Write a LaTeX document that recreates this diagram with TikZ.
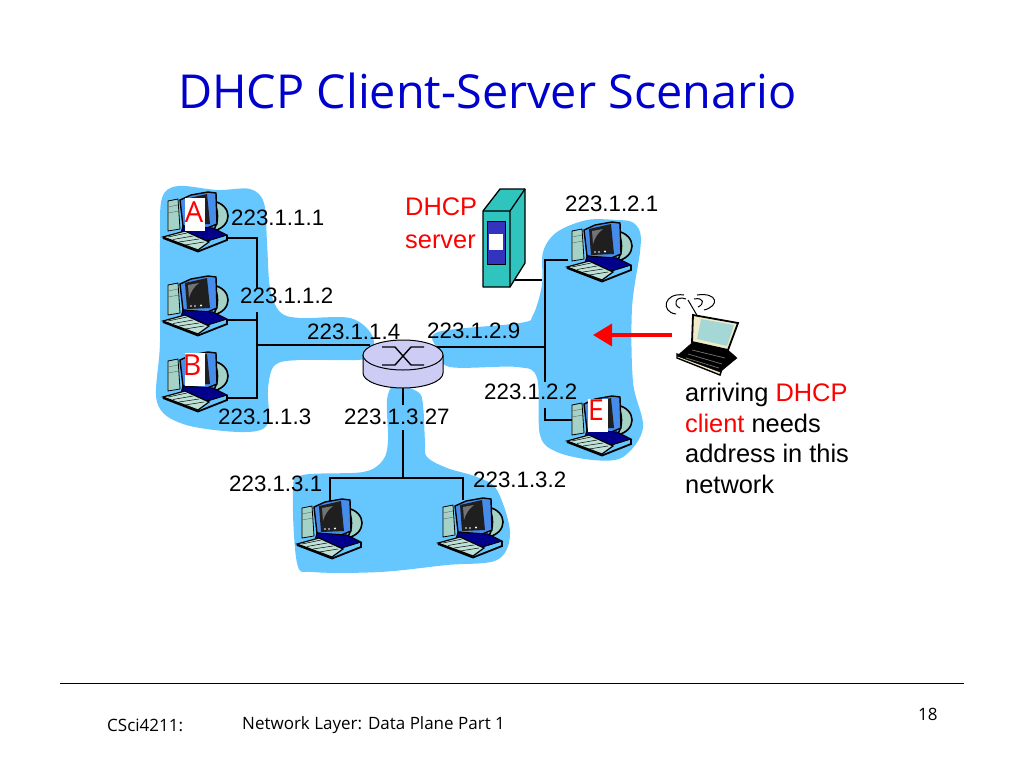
\documentclass[tikz,border=0pt]{standalone}
\usepackage{fontspec}
\setmainfont{Liberation Sans}
\newfontfamily\slidefont{Open Sans}
\usetikzlibrary{arrows.meta}
\definecolor{netblue}{RGB}{102,199,255}
\definecolor{slideblue}{RGB}{0,0,204}
\definecolor{serverteal}{RGB}{48,196,190}
\definecolor{panelblue}{RGB}{51,51,190}
\definecolor{routerlav}{RGB}{204,204,245}
\definecolor{bandblue}{RGB}{70,140,235}
\definecolor{towerteal}{RGB}{165,210,198}
\definecolor{keygrey}{RGB}{190,225,215}
\definecolor{lapscreen}{RGB}{165,215,215}
\definecolor{lapcream}{RGB}{240,235,200}
\tikzset{
  netblob/.style = {fill=netblue, draw=none},
  wire/.style = {draw=black, line width=1.6pt},
  addr/.style = {anchor=west, inner sep=0pt, font=\fontsize{22.3}{26}\selectfont},
  note/.style = {anchor=west, inner sep=0pt, font=\fontsize{25.4}{30.5}\selectfont},
  foot/.style = {anchor=west, inner sep=0pt, font=\slidefont\fontsize{17}{20}\selectfont},
  hostpaper/.style = {fill=white, inner sep=0pt, minimum width=20pt, minimum height=33pt},
  hostletter/.style = {text=red, inner sep=0pt, font=\slidefont\fontsize{29}{30}\selectfont},
  computer/.pic = {
    % tower
    \draw[fill=towerteal, line width=.8pt] (5,8) -- (15,6) -- (17,36) -- (5,38) -- cycle;
    \draw[black!60] (5,14) -- (15,12) (5,20) -- (16,18);
    % swoosh behind the monitor
    \draw[fill=towerteal, line width=1.6pt] (50,8) .. controls (70,12) and (70,34) .. (50,38)
      .. controls (56,30) and (56,16) .. (50,8) -- cycle;
    % monitor
    \draw[fill=bandblue, line width=1.4pt] (17,7) -- (28,2) -- (45,-1) -- (53,0) -- (54,31) -- (42,36) -- (20,33) -- cycle;
    \fill[black!88] (22,6) -- (44,1) -- (47,31) -- (24,32) -- cycle;
    \fill[black!55] (25,8) -- (36,6) .. controls (31,10) and (28,14) .. (26,21) -- cycle;
    \fill[white] (28,29) circle (.8) (32,29) circle (.8) (38,28.5) circle (1.2);
    % base
    \draw[fill=blue!55!black, line width=1pt] (20,33) -- (50,35) -- (64,42) -- (38,50) -- (18,40) -- cycle;
    % keyboard
    \draw[fill=keygrey, line width=1.2pt] (0,44) -- (22,38) -- (46,49) -- (35,57) -- cycle;
    \draw[line width=.5pt] (5,44) -- (24,40) (10,46.5) -- (30,43) (16,49) -- (36,46) (22,52) -- (41,49);
    \draw[line width=1.8pt] (0,45) -- (35,58.5) -- (64,47) -- (64,42);
  }
}
\begin{document}
\begin{tikzpicture}[x=1pt,y=-1pt]
    \useasboundingbox (0,0) rectangle (1024,768);
    % title and footer
    \node (title) [anchor=west, inner sep=0pt, text=slideblue, font=\slidefont\fontsize{46.8}{52}\selectfont] at (178,91) {DHCP Client-Server Scenario};
    \coordinate (ruleL) at (60,683);
    \coordinate (ruleR) at (964,683);
    \draw[line width=.7pt] (ruleL) -- (ruleR);
    \node (course) [foot] at (107,725) {CSci4211:};
    \node (chapter) [foot] at (242,725) {Network Layer: Data Plane Part 1};
    \node (pageno) [foot] at (918,714) {18};
    % subnets
    \fill[netblob] plot[smooth cycle, tension=.55] coordinates {(178,186) (217,190) (250,189) (264,203) (267,242) (270,288)
      (280,312) (300,318) (350,318) (372,335) (372,355) (357,360) (300,360) (275,365) (268,388) (267,425)
      (240,432) (183,424) (157,402) (160,342) (160,242) (162,198)};
    \fill[netblob] plot[smooth cycle, tension=.55] coordinates {(632,222) (617,220) (587,220) (557,232) (543,252) (542,285)
      (533,315) (520,323) (438,332) (438,350) (450,367) (517,367) (537,378) (540,435) (557,452)
      (593,460) (623,457) (643,428) (633,382) (632,308) (640,252) (640,232)};
    \fill[netblob] plot[smooth cycle, tension=.55] coordinates {(395,385) (418,392) (423,405) (425,442) (427,457) (447,468) (477,477)
      (497,490) (510,533) (497,560) (447,565) (380,572) (313,572) (297,563) (293,490) (303,475)
      (363,472) (383,460) (388,440) (387,400)};
    % junctions
    \coordinate (leftTop) at (257,238);
    \coordinate (leftUpperEnd) at (257,288);
    \coordinate (leftLowerTop) at (257,312);
    \coordinate (leftMid) at (257,320);
    \coordinate (leftRouter) at (257,345);
    \coordinate (leftBot) at (257,398);
    \coordinate (portA) at (227,238);
    \coordinate (portM) at (227,320);
    \coordinate (portB) at (227,398);
    \coordinate (rightTop) at (545,260);
    \coordinate (rightServer) at (542,280);
    \coordinate (rightRouter) at (545,347);
    \coordinate (rightUpperEnd) at (545,382);
    \coordinate (rightLowerTop) at (545,408);
    \coordinate (rightBot) at (545,420);
    \coordinate (portT) at (568,260);
    \coordinate (portE) at (575,420);
    \coordinate (portS) at (515,280);
    \coordinate (routerL) at (370,345);
    \coordinate (routerR) at (437,347);
    \coordinate (routerB) at (403,388);
    \coordinate (downEnd) at (403,405);
    \coordinate (downTop) at (403,430);
    \coordinate (downJoin) at (403,478);
    \coordinate (joinL) at (330,478);
    \coordinate (joinR) at (463,478);
    \coordinate (portL) at (330,502);
    \coordinate (portR) at (463,500);
    % wires
    \draw[wire] (portA) -- (leftTop) -- (leftUpperEnd);
    \draw[wire] (leftLowerTop) -- (leftBot) -- (portB);
    \draw[wire] (portM) -- (leftMid);
    \draw[wire] (leftRouter) -- (routerL);
    \draw[wire] (routerR) -- (rightRouter);
    \draw[wire] (portT) -- (rightTop) -- (rightUpperEnd);
    \draw[wire] (rightLowerTop) -- (rightBot) -- (portE);
    \draw[wire] (portS) -- (rightServer);
    \draw[wire] (routerB) -- (downEnd);
    \draw[wire] (downTop) -- (downJoin);
    \draw[wire] (portL) -- (joinL) -- (joinR) -- (portR);
    % router
    \draw[fill=routerlav, line width=1pt] (363,355) -- (363,373) arc (180:0:40 and 15) -- (443,355);
    \draw[fill=routerlav, line width=1pt] (403,355) ellipse (40 and 15);
    \draw[line width=1.4pt] (382,347) -- (395,347) -- (411,365) -- (424,365);
    \draw[line width=1.4pt] (382,365) -- (395,365) -- (411,347) -- (424,347);
    % hosts
    \pic (hostA) at (163,193) {computer};
    \pic (hostM) at (163,277) {computer};
    \pic (hostB) at (163,353) {computer};
    \pic (hostT) at (567,223) {computer};
    \pic (hostE) at (567,397) {computer};
    \pic (hostL) at (297,500) {computer};
    \pic (hostR) at (438,499) {computer};
    \node (paperA) [hostpaper] at (195,214) {};
    \node (paperB) [hostpaper] at (195,369) {};
    \node (paperE) [hostpaper] at (598,415) {};
    \node (letterA) [hostletter] at (194,212) {A};
    \node (letterB) [hostletter] at (192,365) {B};
    \node (letterE) [hostletter] at (596,410) {E};
    % server
    \draw[fill=serverteal, line width=1.3pt, line join=round] (483,211) -- (500,189) -- (525,189) -- (525,263) -- (510,287) -- (483,287) -- cycle;
    \draw[line width=1.3pt] (483,211) -- (510,211) -- (525,189) (510,211) -- (510,287);
    \draw[fill=panelblue, line width=1pt] (487,221) rectangle (505,264);
    \fill[white] (489,234) rectangle (503,250);
    % laptop
    \draw[line width=1pt] (688,300) -- (698,317);
    \draw[line width=1pt] (686,299) .. controls (676,295) and (672,305) .. (680,308);
    \draw[line width=1pt] (684,295) .. controls (664,292) and (660,312) .. (676,314);
    \draw[line width=1pt] (694,299) .. controls (704,297) and (705,304) .. (698,307);
    \draw[line width=1pt] (697,295) .. controls (718,292) and (720,306) .. (704,310);
    \draw[fill=lapcream, line width=1.4pt] (677,358) -- (720,375) -- (722,369) -- (677,354) -- cycle;
    \draw[fill=black] (693,342) -- (728,350) -- (737,358) -- (720,372) -- (677,356) -- cycle;
    \draw[fill=lapcream, line width=1.8pt] (693,315) -- (738,323) -- (728,350) -- (692,342) -- cycle;
    \fill[lapscreen] (701,319) -- (734,325) -- (727,346) -- (697,339) -- cycle;
    \draw[black!55, line width=.7pt] (692,350) -- (725,358) (688,354) -- (722,364) (686,358) -- (719,368);
    % arrow
    \coordinate (laptopOut) at (672,335);
    \coordinate (netIn) at (593,335);
    \draw[red, line width=3.5pt, -{Triangle[length=19pt,width=22pt]}] (laptopOut) -- (netIn);
    % labels
    \node (addrA) [addr] at (231,218) {223.1.1.1};
    \node (addrM) [addr] at (240,296) {223.1.1.2};
    \node (addrB) [addr] at (218,417) {223.1.1.3};
    \node (addrRL) [addr] at (307,332) {223.1.1.4};
    \node (addrRR) [addr] at (427,331) {223.1.2.9};
    \node (addrT) [addr] at (565,204) {223.1.2.1};
    \node (addrE) [addr] at (484,392) {223.1.2.2};
    \node (addrRB) [addr] at (344,417) {223.1.3.27};
    \node (addrL) [addr] at (229,484) {223.1.3.1};
    \node (addrR) [addr] at (473,480) {223.1.3.2};
    \node (dhcpName) [note, text=red] at (405,207) {DHCP};
    \node (dhcpRole) [note, text=red] at (405,242) {server};
    \node (clientNote) [note, align=left, anchor=north west] at (685,383) {arriving \textcolor{red}{DHCP}\\\textcolor{red}{client} needs\\address in this\\network};
\end{tikzpicture}
\end{document}
